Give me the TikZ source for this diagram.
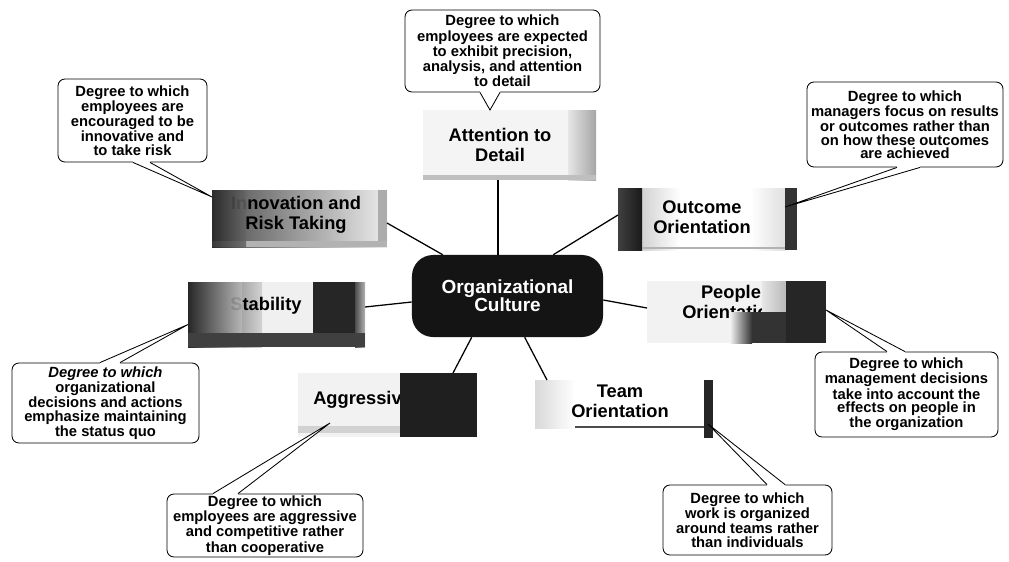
\documentclass[tikz,border=0pt]{standalone}
\usepackage{fontspec}
\setmainfont{Liberation Sans}
\usetikzlibrary{calc}
\newcommand\boxat[6]{%
  \pgfmathsetmacro\bxw{(#4-#2)*0.025}%
  \pgfmathsetmacro\bxh{(#5-#3)*0.025}%
  \node[inner sep=0pt, outer sep=0pt, minimum width=\bxw cm, minimum height=\bxh cm, #6] (#1) at ({(#2+#4)/2},{(#3+#5)/2}) {};}
\newcommand\calltail[4]{%
  \fill[white] ($(#1)+(#4)$) -- (#1) -- (#3) -- (#2) -- ($(#2)+(#4)$) -- cycle;
  \draw[tailside] (#1) -- (#3) -- (#2);}
\begin{document}
\begin{tikzpicture}[x=0.025cm,y=-0.025cm,
  note/.style={font=\bfseries\fontsize{10.5pt}{9.6pt}\selectfont, draw=black, line width=0.6pt, fill=white, rounded corners=5pt, inner sep=0pt, align=center},
  cattext/.style={font=\bfseries\fontsize{13pt}{14pt}\selectfont, align=center, inner sep=0pt},
  link/.style={line width=0.9pt, black},
  tailside/.style={line width=0.6pt, black},
]
\fill[white] (0,0) rectangle (1009,561);
\useasboundingbox (0,0) rectangle (1009,561);

% ---------- category boxes ----------
% Attention to Detail
\boxat{attB}{423}{110}{596}{180}{fill=gray!9}
\shade[left color=gray!20, right color=gray!70] (568,110) rectangle (596,180);
\fill[gray!50] (423,175) rectangle (596,180);
\node[cattext] (attT) at (500,145) {Attention to\\Detail};

% Innovation and Risk Taking
\boxat{innB}{212}{190}{387}{247}{left color=black!70, middle color=gray!45, right color=gray!15}
\fill[gray!65] (378,190) rectangle (387,247);
\fill[gray!60] (212,241) rectangle (387,247);
\node[cattext] (innT) at (296,215) {Innovation and\\Risk Taking};
\shade[left color=black!85, right color=black!60, opacity=0.85] (212,190) rectangle (246,247);

% Outcome Orientation
\boxat{outB}{618}{188}{797}{250}{fill=white}
\shade[left color=gray!35, right color=white] (642,188) rectangle (680,250);
\shade[left color=white, right color=gray!25] (750,188) rectangle (785,250);
\shade[left color=black!75, right color=black!90] (618,188) rectangle (642,250);
\fill[black!80] (785,188) rectangle (797,250);
\draw[gray!60, line width=0.8pt] (642,248) -- (785,248);
\node[cattext] (outT) at (702,217) {Outcome\\Orientation};

% Stability
\boxat{staB}{188}{282}{365}{347}{fill=gray!12}
\shade[left color=black!80, right color=gray!35] (188,282) rectangle (262,347);
\node[cattext] (staT) at (266,306) {Stability};
\shade[left color=black!85, right color=gray!55, opacity=0.85] (188,282) rectangle (242,347);
\fill[black!85] (313,282) rectangle (355,347);
\shade[left color=black!70, right color=gray!60] (355,282) rectangle (365,347);
\fill[black!75] (188,333) rectangle (365,347);

% People Orientation
\boxat{pplB}{647}{281}{826}{343}{fill=gray!10}
\node[cattext] (pplT) at (731,302) {People\\Orientation};
\shade[left color=gray!20, right color=gray!55] (762,281) rectangle (786,312);
\shade[left color=gray!10, right color=black!80] (730,312) rectangle (752,343);
\fill[black!80] (752,312) rectangle (786,343);
\fill[black!85] (786,281) rectangle (826,343);

% Aggressiveness
\boxat{aggB}{298}{373}{477}{437}{fill=gray!10}
\fill[gray!35] (298,426) rectangle (400,433);
\node[cattext, anchor=west] (aggT) at (313,400) {Aggressiveness};
\fill[black!88] (400,373) rectangle (477,437);

% Team Orientation
\boxat{teamB}{535}{380}{713}{428}{fill=white}
\shade[left color=gray!30, right color=white] (535,380) rectangle (575,428);
\draw[black!70, line width=1pt] (575,427) -- (705,427);
\node[cattext] (teamT) at (620,401) {Team\\Orientation};
\fill[black!85] (704,380) rectangle (713,438);

% ---------- centre ----------
\node[fill=black!92, rounded corners=15pt, minimum width=4.775cm, minimum height=2.05cm,
      inner sep=0pt, text=white, font=\bfseries\fontsize{13.5pt}{13pt}\selectfont, align=center]
      (cen) at (507.5,296) {Organizational\\Culture};

% ---------- links ----------
\draw[link] ($(attB.south)+(-11.5,0)$) -- ($(cen.north)+(-9.5,0)$);
\draw[link] ($(innB.east)+(0,4.5)$) -- ($(cen.north west)+(31,0)$);
\draw[link] ($(outB.west)+(0,-4)$) -- ($(cen.north east)+(-50,0)$);
\draw[link] ($(staB.east)+(0,-7.5)$) -- ($(cen.west)+(0,6)$);
\draw[link] ($(cen.east)+(0,4)$) -- ($(pplB.west)+(0,-4)$);
\draw[link] ($(cen.south west)+(60,0)$) -- ($(aggB.north)+(65.5,0)$);
\draw[link] ($(cen.south west)+(113,0)$) -- ($(teamB.north west)+(12,0)$);

% ---------- callouts ----------
\node[note, minimum width=4.875cm, minimum height=2.05cm] (c1) at (502.5,51)
  {Degree to which\\employees are expected\\to exhibit precision,\\analysis, and attention\\to detail};
\node[note, minimum width=3.725cm, minimum height=2.075cm] (c2) at (132.5,120.5)
  {Degree to which\\employees are\\encouraged to be\\innovative and\\to take risk};
\node[note, minimum width=4.9cm, minimum height=2.125cm] (c3) at (905,124.5)
  {Degree to which\\managers focus on results\\or outcomes rather than\\on how these outcomes\\are achieved};
\node[note, minimum width=4.675cm, minimum height=2.0cm] (c4) at (105.5,403)
  {\textit{Degree to which}\\organizational\\decisions and actions\\emphasize maintaining\\the status quo};
\node[note, minimum width=4.575cm, minimum height=2.125cm] (c5) at (906.5,394.5)
  {Degree to which\\management decisions\\take into account the\\effects on people in\\the organization};
\node[note, minimum width=4.9cm, minimum height=1.575cm] (c6) at (265,525.5)
  {Degree to which\\employees are aggressive\\and competitive rather\\than cooperative};
\node[note, minimum width=4.225cm, minimum height=1.75cm] (c7) at (747.5,520)
  {Degree to which\\work is organized\\around teams rather\\than individuals};

% ---------- tails ----------
\coordinate (b1a) at ($(c1.south)+(-22.5,0)$);
\coordinate (b1b) at ($(c1.south)+(-2.5,0)$);
\coordinate (t1) at ($(attB.north)+(-19.5,0)$);
\calltail{b1a}{b1b}{t1}{0,-1.5}

\coordinate (b2a) at ($(c2.south)+(0.5,0)$);
\coordinate (b2b) at ($(c2.south)+(17.5,0)$);
\coordinate (t2) at ($(innB.north west)+(0,7)$);
\calltail{b2a}{b2b}{t2}{0,-1.5}

\coordinate (b3a) at ($(c3.south)+(-8,0)$);
\coordinate (b3b) at ($(c3.south)+(15,0)$);
\coordinate (t3) at ($(outB.north east)+(-12,19)$);
\calltail{b3a}{b3b}{t3}{0,-1.5}

\coordinate (b4a) at ($(c4.north)+(-5.5,0)$);
\coordinate (b4b) at ($(c4.north)+(14.5,0)$);
\coordinate (t4) at ($(staB.west)+(0,10)$);
\calltail{b4a}{b4b}{t4}{0,1.5}

\coordinate (b5a) at ($(c5.north)+(-19.5,0)$);
\coordinate (b5b) at ($(c5.north)+(-1.5,0)$);
\coordinate (t5) at ($(pplB.east)+(0,-2)$);
\calltail{b5a}{b5b}{t5}{0,1.5}

\coordinate (b6a) at ($(c6.north)+(-52,0)$);
\coordinate (b6b) at ($(c6.north)+(-27,0)$);
\coordinate (t6) at ($(aggB.south west)+(32,-14)$);
\calltail{b6a}{b6b}{t6}{0,1.5}

\coordinate (b7a) at ($(c7.north)+(19.5,0)$);
\coordinate (b7b) at ($(c7.north)+(37.5,0)$);
\coordinate (t7) at ($(teamB.south east)+(-5,-4)$);
\calltail{b7a}{b7b}{t7}{0,1.5}

\end{tikzpicture}
\end{document}
